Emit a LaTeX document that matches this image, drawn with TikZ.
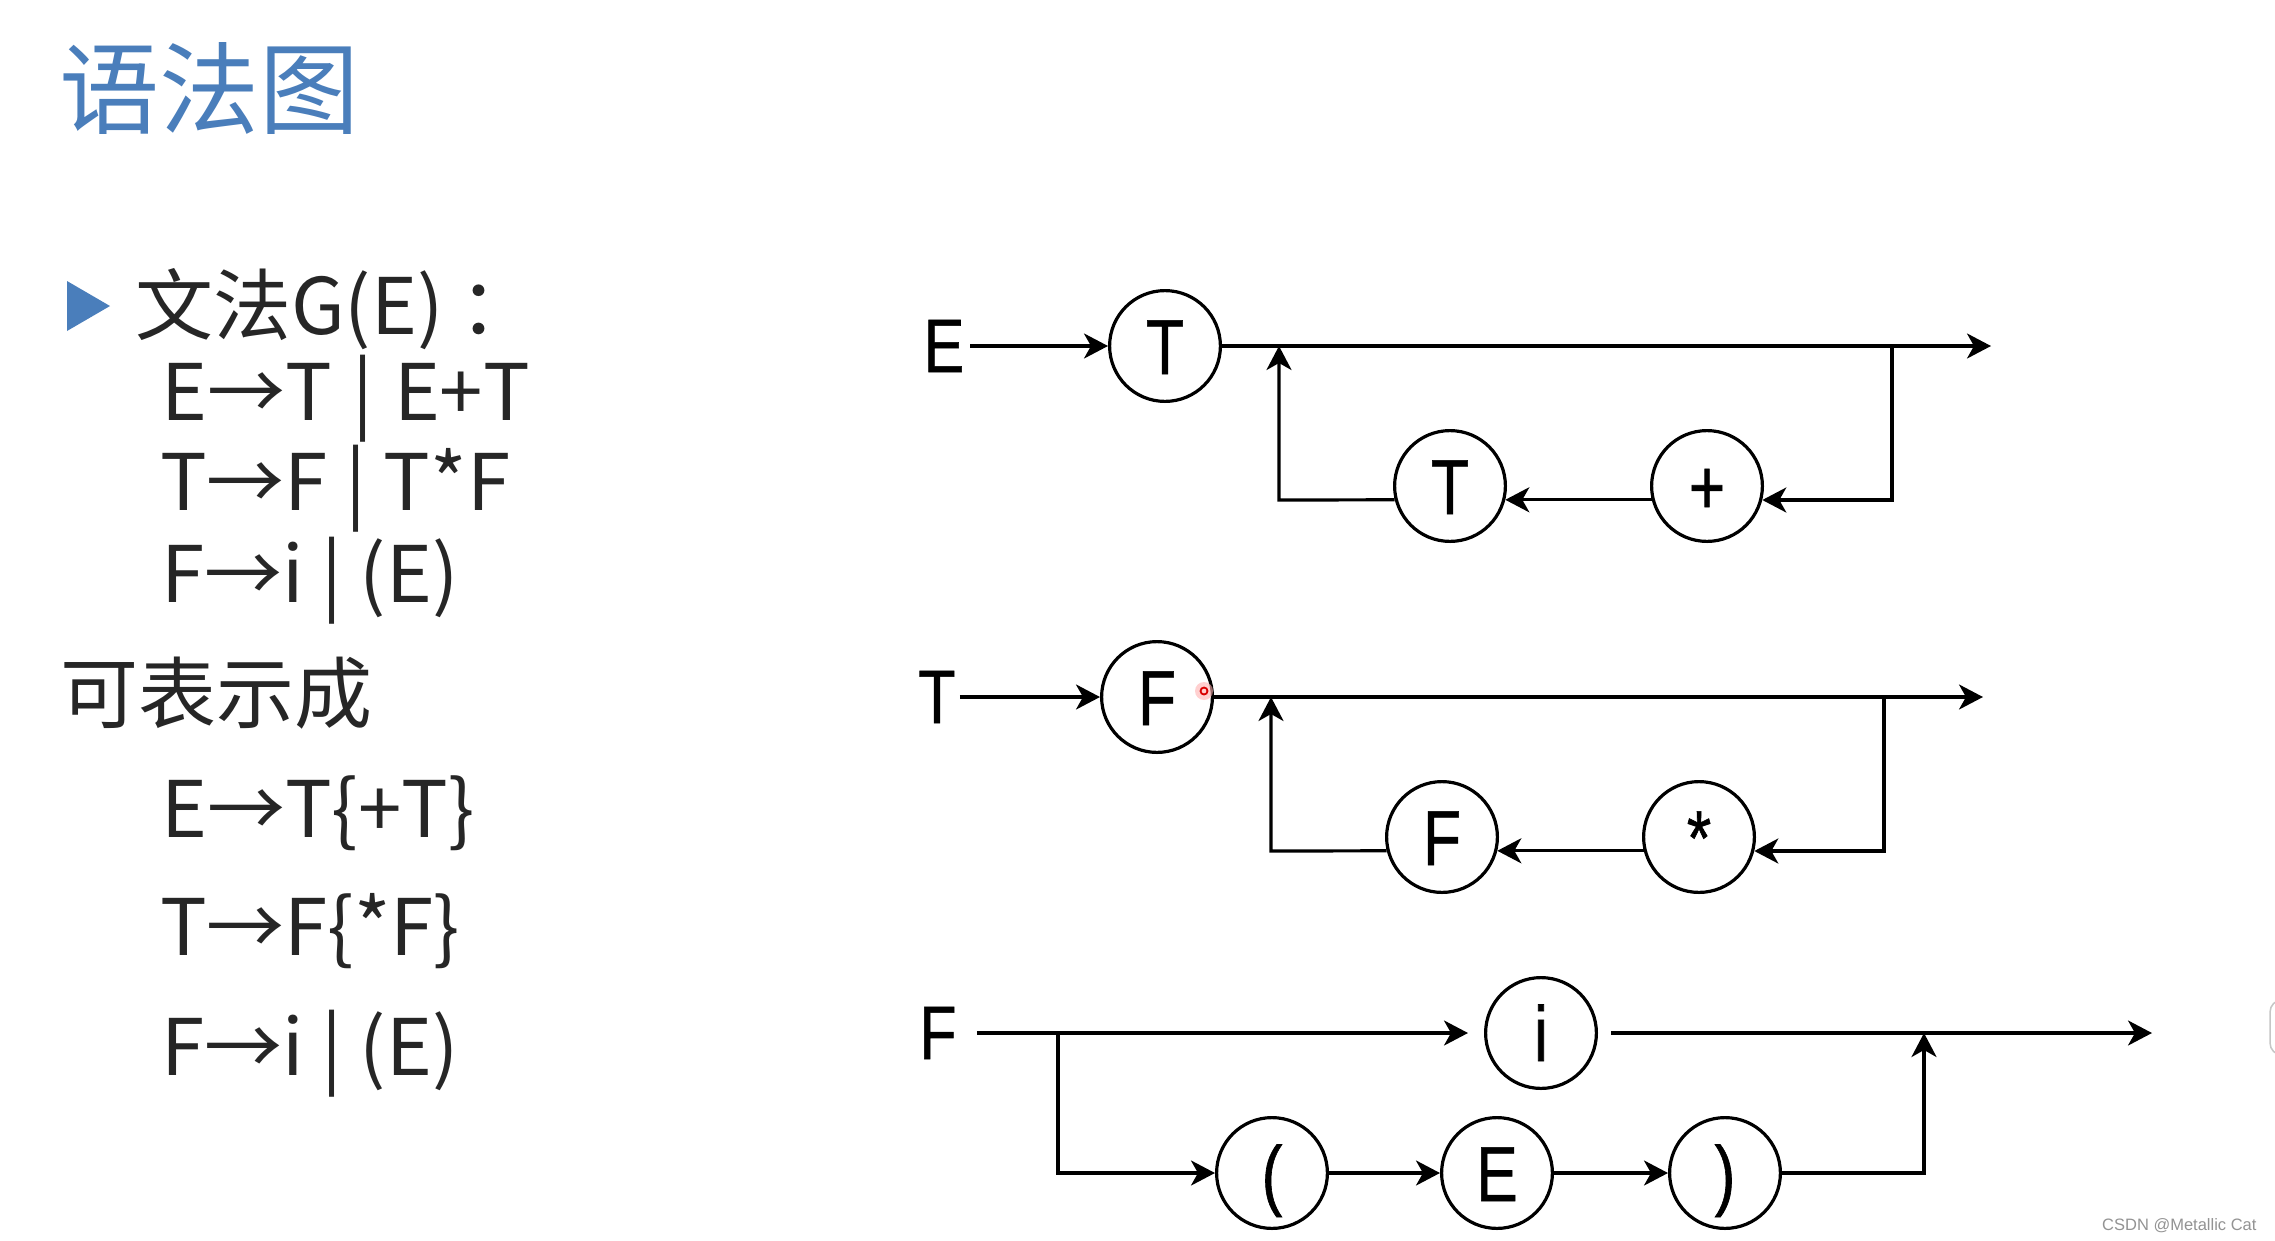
\documentclass[tikz,border=0pt]{standalone}
\usepackage{fontspec}
\setmainfont{Noto Sans CJK SC}
\newfontfamily\dfont[FakeStretch=0.8,FakeBold=0.8]{Liberation Sans}
\newfontfamily\wfont{Liberation Sans}
\usetikzlibrary{arrows.meta,calc}
\definecolor{titleblue}{RGB}{74,126,187}
\definecolor{txt}{RGB}{38,38,38}
\begin{document}
\begin{tikzpicture}[x=1pt,y=-1pt,
  lt/.style={anchor=base west, inner sep=0pt, text=txt, font=\fontsize{78}{90}\selectfont},
  sym/.style={circle, draw, line width=3.2pt, minimum size=110.8pt, inner sep=0pt,
    font=\dfont\fontsize{78}{90}\selectfont, text height=56pt, text depth=0pt},
  lab/.style={inner sep=0pt, font=\dfont\fontsize{76}{90}\selectfont},
  conn/.style={line width=3.2pt},
  arr/.style={conn, -{Stealth[length=24pt,width=25pt,inset=7pt]}},
]
\useasboundingbox (0,0) rectangle (2275,1240);
\fill[white] (0,0) rectangle (2275,1240);

% ---- left text ----
\node[anchor=base west, inner sep=0pt, text=titleblue, font=\fontsize{100}{110}\selectfont] (title) at (59,126) {语法图};
\fill[titleblue] (67,281) -- (110,306) -- (67,331) -- cycle;
\node[lt] (g0) at (135,334) {文法G(E)\hspace{0.2em}：};
\node[lt] (g1) at (161,420) {E→T\hspace{0.04em} | \hspace{0.04em}E+T};
\node[lt] (g2) at (160,510) {T→F | T*F};
\node[lt] (g3) at (161,602) {F→i | (E)};
\node[lt] (g4) at (60,722) {可表示成};
\node[lt] (g5) at (161,837) {E→T\{+T\}};
\node[lt] (g6) at (160,955) {T→F\{*F\}};
\node[lt] (g7) at (161,1075) {F→i | (E)};

% ---- diagram E ----
\node[lab] (lE1) at (944,346) {E};
\node[sym] (c1T) at (1165,346) {T};
\coordinate (e1) at (1991,346);
\coordinate (j1L) at (1279,346);
\coordinate (j1R) at (1892,346);
\coordinate (b1L) at (1279,500);
\coordinate (b1R) at (1892,500);
\node[sym] (c1Tb) at (1450,486) {T};
\node[sym] (c1P) at (1707,486) {+};
\draw[arr, shorten <=6pt] (lE1.east) -- (c1T);
\draw[arr] (c1T) -- (e1);
\draw[arr] (j1R) -- (b1R) -- (b1R -| c1P.-14);
\draw[arr] (c1P.194) -- (c1P.194 -| c1Tb.-14);
\draw[arr] (c1Tb.194) -- (b1L) -- (j1L);

% ---- diagram T ----
\node[lab] (lT2) at (937,697) {T};
\node[sym] (c2F) at (1157,697) {F};
\coordinate (e2) at (1983,697);
\coordinate (j2L) at (1271,697);
\coordinate (j2R) at (1884,697);
\coordinate (b2L) at (1271,851);
\coordinate (b2R) at (1884,851);
\node[sym] (c2Fb) at (1442,837) {F};
\node[sym] (c2S) at (1699,837) {*};
\draw[arr, shorten <=4pt] (lT2.east) -- (c2F);
\draw[arr] (c2F) -- (e2);
\draw[arr] (j2R) -- (b2R) -- (b2R -| c2S.-14);
\draw[arr] (c2S.194) -- (c2S.194 -| c2Fb.-14);
\draw[arr] (c2Fb.194) -- (b2L) -- (j2L);

% ---- diagram F ----
\node[lab] (lF3) at (938,1033) {F};
\coordinate (br3) at (1058,1033);
\node[sym] (c3i) at (1541,1033) {i};
\coordinate (e3) at (2152,1033);
\coordinate (m3) at (1924,1033);
\coordinate (b3L) at (1058,1173);
\coordinate (b3R) at (1924,1173);
\node[sym] (c3lp) at (1272,1173) {(};
\node[sym] (c3E) at (1497,1173) {E};
\node[sym] (c3rp) at (1725,1173) {)};
\draw[arr, shorten <=20pt, shorten >=16pt] (lF3.east) -- (c3i);
\draw[arr, shorten <=13pt] (c3i) -- (e3);
\draw[arr] (br3) -- (b3L) -- (c3lp);
\draw[arr] (c3lp) -- (c3E);
\draw[arr] (c3E) -- (c3rp);
\draw[arr] (c3rp) -- (b3R) -- (m3);

% ---- pointer mark and page details ----
\fill[red!30, opacity=0.6] (1204,691) circle[radius=9];
\draw[red!85!black, line width=1.8pt] (1204,691) circle[radius=3.5];
\draw[gray!45, line width=1.5pt, rounded corners=12pt] (2300,1000) -- (2270,1000) -- (2270,1055) -- (2300,1055);
\node[anchor=base west, inner sep=0pt, text=gray!85, font=\wfont\fontsize{16.5}{18}\selectfont] (wm) at (2102,1230) {CSDN @Metallic Cat};
\end{tikzpicture}
\end{document}
